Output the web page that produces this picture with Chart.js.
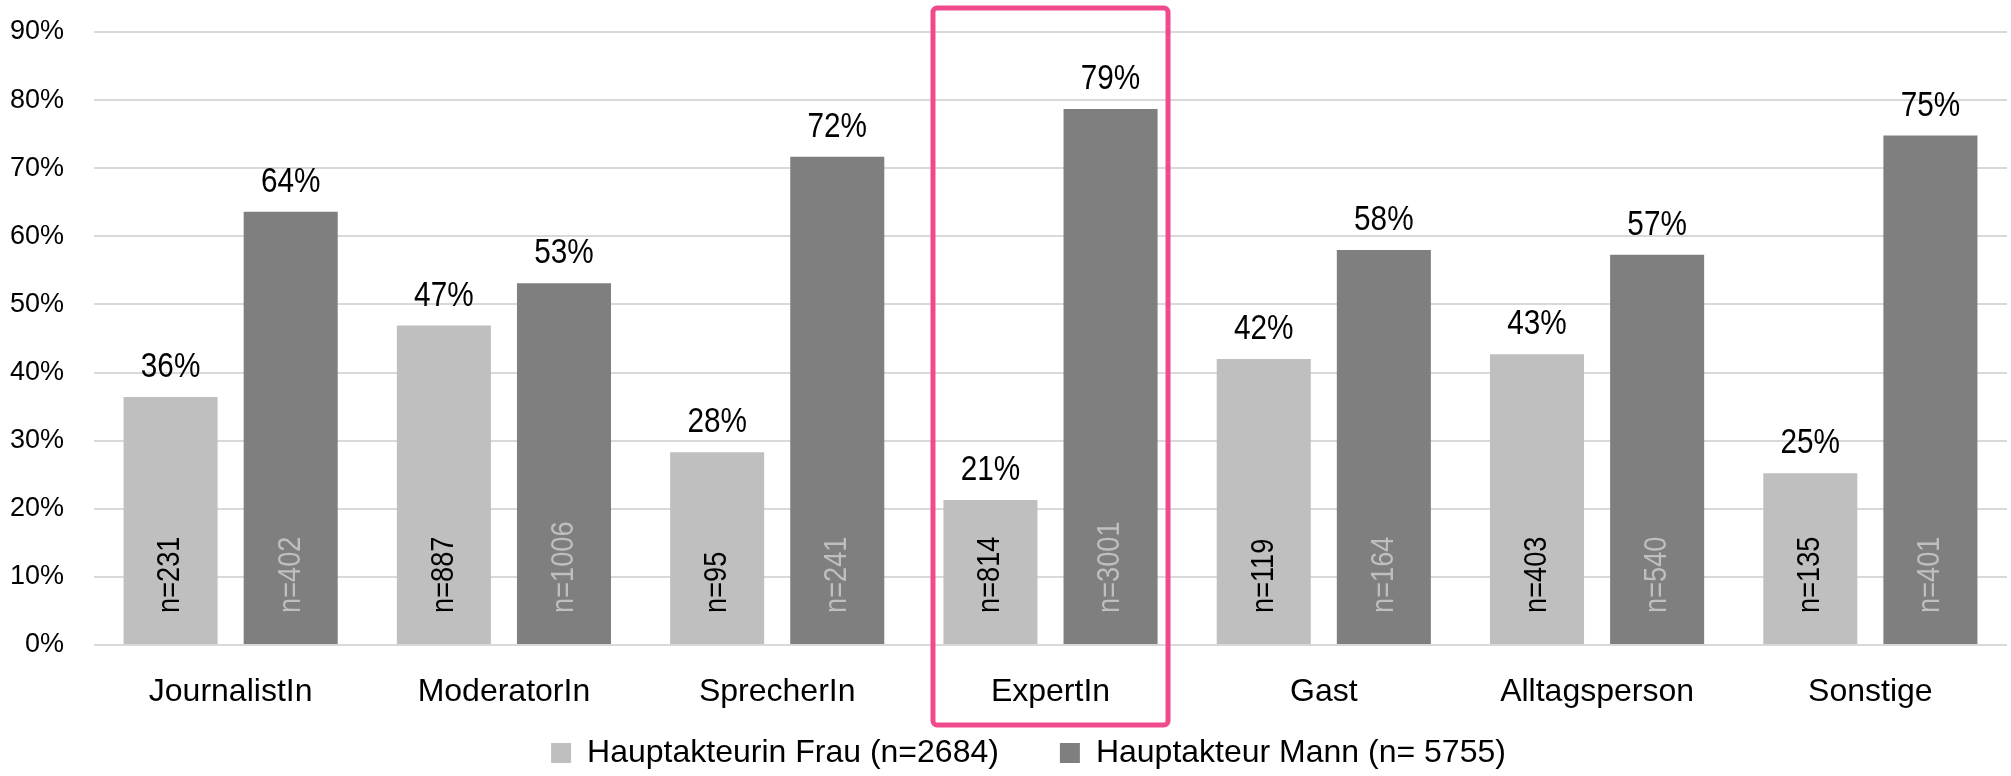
<!DOCTYPE html>
<html>
<head>
<meta charset="utf-8">
<script src="https://cdn.jsdelivr.net/npm/chart.js@4/dist/chart.umd.min.js"></script>
<style>
  body { margin: 0; background: #fff; overflow: hidden; }
</style>
</head>
<body>
<canvas id="displayChart" width="2011" height="776"></canvas>
<script>
//chart data
var categories = ["JournalistIn", "ModeratorIn", "SprecherIn", "ExpertIn", "Gast", "Alltagsperson", "Sonstige"];
var frauShare = [36.4, 46.9, 28.3, 21.3, 42.0, 42.7, 25.2];
var mannShare = [63.6, 53.1, 71.7, 78.7, 58.0, 57.3, 74.8];
var frauN = [231, 887, 95, 814, 119, 403, 135];
var mannN = [402, 1006, 241, 3001, 164, 540, 401];
var seriesNames = ["Hauptakteurin Frau (n=2684)", "Hauptakteur Mann (n= 5755)"];
var yMax = 90;
var yStep = 10;
var highlightIndex = 3; // ExpertIn gets the pink frame

var fontFamily = "'Liberation Sans', Arial, sans-serif";
var lightGrey = "#BFBFBF";
var darkGrey = "#7F7F7F";
var pink = "#EF4A8C";
var squeeze = 0.85; // original text is a bit condensed

//percent labels above bars + n labels inside bars
var barLabels = {
  id: "barLabels",
  afterDatasetsDraw: function (chart) {
    var ctx = chart.ctx;
    var counts = [frauN, mannN];
    ctx.save();
    chart.data.datasets.forEach(function (ds, di) {
      var meta = chart.getDatasetMeta(di);
      meta.data.forEach(function (bar, i) {
        //percent on top
        ctx.save();
        ctx.translate(bar.x, bar.y - 20);
        ctx.scale(squeeze, 1);
        ctx.font = "35px " + fontFamily;
        ctx.fillStyle = "#000";
        ctx.textAlign = "center";
        ctx.textBaseline = "alphabetic";
        ctx.fillText(Math.round(ds.data[i]) + "%", 0, 0);
        ctx.restore();
        //n= rotated, sitting near the base
        ctx.save();
        ctx.translate(bar.x, bar.base - 31);
        ctx.rotate(-Math.PI / 2);
        ctx.scale(squeeze, 1);
        ctx.font = "32px " + fontFamily;
        ctx.fillStyle = di === 0 ? "#000" : lightGrey;
        ctx.textAlign = "left";
        ctx.textBaseline = "middle";
        ctx.fillText("n=" + counts[di][i], 0, 0);
        ctx.restore();
      });
    });
    ctx.restore();
  }
};

//pink frame round one category
var highlightBox = {
  id: "highlightBox",
  afterDraw: function (chart) {
    var x = chart.scales.x;
    var area = chart.chartArea;
    var catW = (x.right - x.left) / categories.length;
    var cx = x.getPixelForValue(highlightIndex);
    var half = catW * 0.43;
    var ctx = chart.ctx;
    ctx.save();
    ctx.strokeStyle = pink;
    ctx.lineWidth = 5;
    ctx.beginPath();
    ctx.roundRect(cx - half, area.top - 24, half * 2, area.bottom - area.top + 24 + 80, 4);
    ctx.stroke();
    ctx.restore();
  }
};

//legend sits a little right of centre and just under the category labels
var legendNudge = {
  id: "legendNudge",
  afterLayout: function (chart) {
    var lg = chart.legend;
    var lab = lg.options.labels;
    var dy = (chart.chartArea.bottom + 108) - (lg.top + lab.padding + lab.font.size / 2);
    lg.top += dy;
    lg.bottom = chart.height;
    lg.left += 25;
    lg.right += 25;
  }
};

var ctx = document.getElementById("displayChart").getContext("2d");
var chart = new Chart(ctx, {
  type: "bar",
  data: {
    labels: categories,
    datasets: [{
      label: seriesNames[0],
      data: frauShare,
      backgroundColor: lightGrey,
      borderWidth: 0
    }, {
      label: seriesNames[1],
      data: mannShare,
      backgroundColor: darkGrey,
      borderWidth: 0
    }]
  },
  options: {
    responsive: false,
    animation: false,
    devicePixelRatio: 1,
    categoryPercentage: 0.879,
    barPercentage: 0.783,
    layout: { padding: { top: 32, right: 4, left: 0, bottom: 0 } },
    plugins: {
      tooltip: { enabled: false },
      legend: {
        position: "bottom",
        maxHeight: 40,
        labels: {
          color: "#000",
          font: { family: fontFamily, size: 32 },
          boxWidth: 20,
          boxHeight: 20,
          padding: 61
        }
      }
    },
    scales: {
      x: {
        grid: { display: false },
        border: { display: false },
        ticks: {
          color: "#000",
          font: { family: fontFamily, size: 32 },
          padding: 20,
          maxRotation: 0,
          autoSkip: false
        },
        afterFit: function (scale) { scale.height = 91; }
      },
      y: {
        min: 0,
        max: yMax,
        grid: { color: "#D9D9D9", lineWidth: 2, drawTicks: false },
        border: { display: false },
        ticks: {
          stepSize: yStep,
          color: "#000",
          font: { family: fontFamily, size: 27 },
          padding: 30,
          callback: function (v) { return v + "%"; }
        },
        afterFit: function (scale) {
          scale.width = 94;
          //top label may poke out, the top padding covers it
          scale.paddingTop = 0;
          scale.paddingBottom = 0;
        }
      }
    }
  },
  plugins: [barLabels, highlightBox, legendNudge]
});
</script>
</body>
</html>
